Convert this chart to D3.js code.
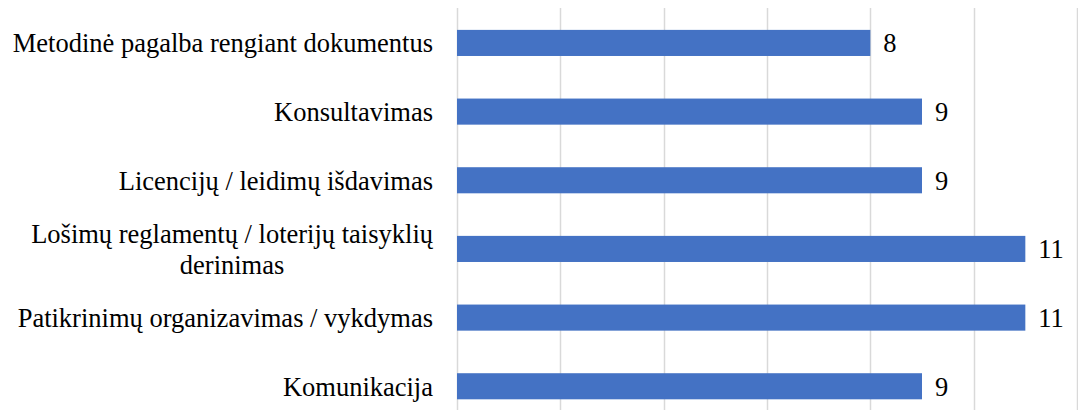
<!DOCTYPE html>
<html>
<head>
<meta charset="utf-8">
<script src="https://cdn.jsdelivr.net/npm/d3@7"></script>
<style>
  body { margin: 0; background: #fff; }
</style>
</head>
<body>
<svg class="chart"></svg>
<script>
// categories top to bottom
var categories = [
  ['Metodinė pagalba rengiant dokumentus'],
  ['Konsultavimas'],
  ['Licencijų / leidimų išdavimas'],
  ['Lošimų reglamentų / loterijų taisyklių', 'derinimas'],
  ['Patikrinimų organizavimas / vykdymas'],
  ['Komunikacija']
];
var values = [8, 9, 9, 11, 11, 9];
var ticks = [0, 2, 4, 6, 8, 10, 12];

var width = 1078;
var height = 410;

var chart = d3.select('.chart')
  .attr('width', width)
  .attr('height', height);

var x = d3.scaleLinear()
  .domain([0, 12])
  .range([457, 1077]);

var y = d3.scaleBand()
  .domain(d3.range(values.length))
  .range([8.6, 420.6])
  .paddingInner(0.62)
  .paddingOuter(0.31);

// gridlines
chart.selectAll('line.grid')
  .data(ticks)
  .enter()
  .append('line')
  .attr('class', 'grid')
  .attr('x1', function(d) { return Math.round(x(d)) + 0.5; })
  .attr('x2', function(d) { return Math.round(x(d)) + 0.5; })
  .attr('y1', 8)
  .attr('y2', height)
  .attr('stroke', '#d9d9d9')
  .attr('stroke-width', 1.5);

chart.selectAll('rect')
  .data(values)
  .enter()
  .append('rect')
  .attr('x', x(0))
  .attr('y', function(d, i) { return y(i); })
  .attr('width', function(d) { return x(d) - x(0); })
  .attr('height', y.bandwidth())
  .attr('fill', '#4472c4');

// value labels
chart.selectAll('text.val')
  .data(values)
  .enter()
  .append('text')
  .attr('class', 'val')
  .attr('x', function(d) { return x(d) + 13; })
  .attr('y', function(d, i) { return y(i) + y.bandwidth() / 2; })
  .attr('dy', '0.35em')
  .style('font-family', "'Liberation Serif'")
  .attr('font-size', 26.5)
  .text(function(d) { return d; });

// category labels; lines of a wrapped label are centred in a right-aligned block
var lab = chart.selectAll('text.cat')
  .data(categories)
  .enter()
  .append('text')
  .attr('class', 'cat')
  .attr('text-anchor', 'end')
  .style('font-family', "'Liberation Serif'")
  .attr('font-size', 26.5)
  .attr('y', function(d, i) { return y(i) + y.bandwidth() / 2; });

lab.each(function(lines) {
  var t = d3.select(this);
  var n = lines.length;
  lines.forEach(function(s, k) {
    t.append('tspan')
      .attr('x', 433)
      .attr('dy', k === 0 ? (0.35 - (n - 1) * 0.58) + 'em' : '1.16em')
      .text(s);
  });
});

document.fonts.ready.then(function() {
  lab.attr('text-anchor', 'middle');
  lab.each(function() {
    var w = 0;
    d3.select(this).selectAll('tspan').each(function() {
      w = Math.max(w, this.getComputedTextLength());
    });
    d3.select(this).selectAll('tspan').attr('x', 433 - w / 2);
  });
});
</script>
</body>
</html>
